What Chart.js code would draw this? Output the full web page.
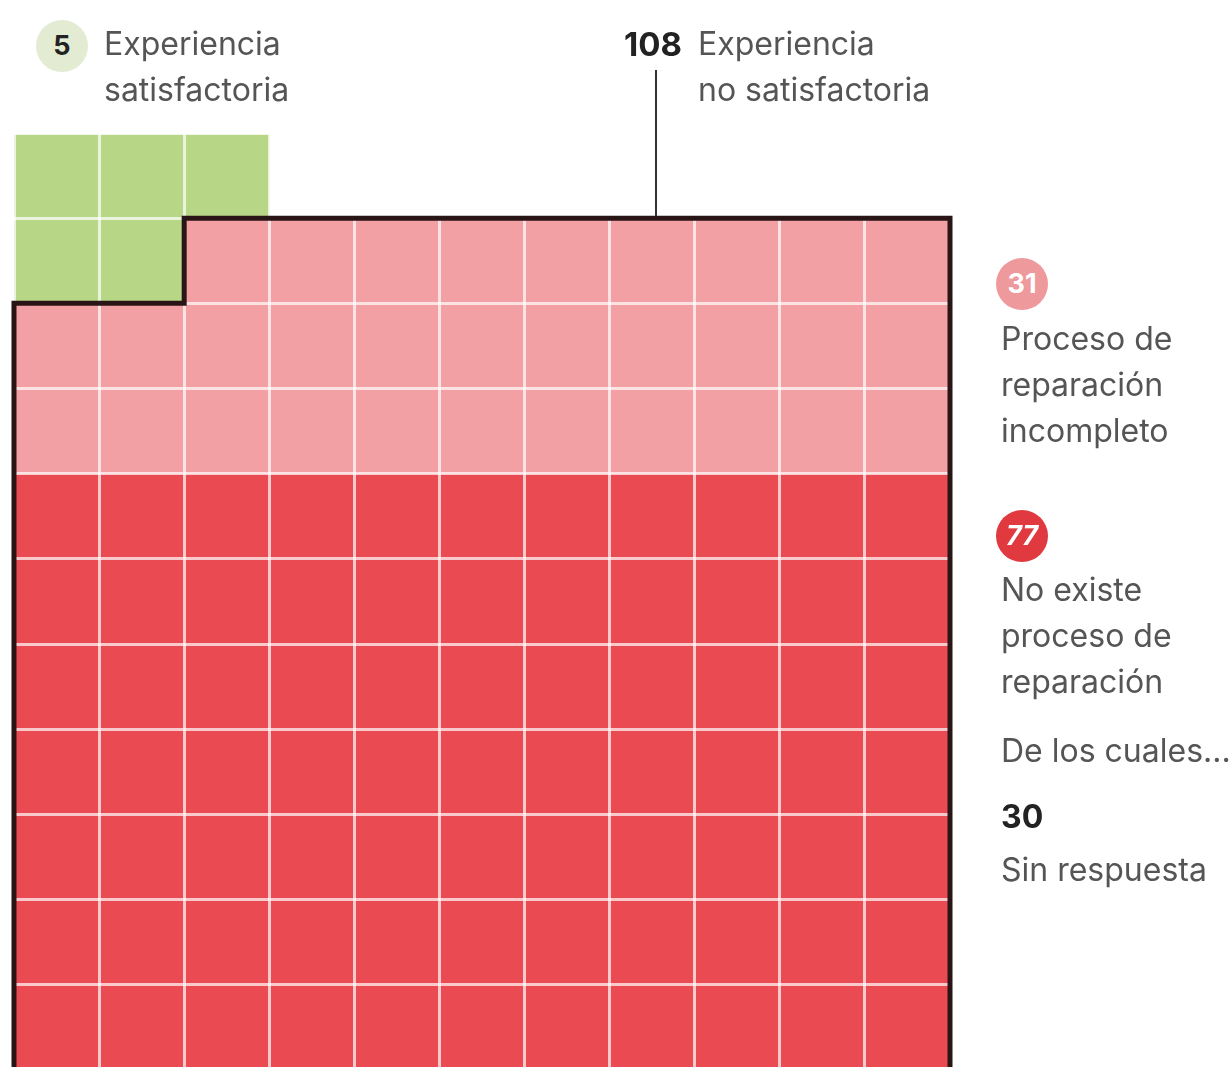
<!DOCTYPE html>
<html>
<head>
<meta charset="utf-8">
<script src="https://cdn.jsdelivr.net/npm/chart.js@4"></script>
<style>
  html, body { margin: 0; padding: 0; background: #fff; overflow: hidden; }
  body { width: 1229px; height: 1067px; position: relative; font-family: Inter, "Noto Sans", sans-serif; }
  #wrap { position: absolute; left: 0; top: 0; width: 1229px; height: 1070px; }
  .lbl { position: absolute; color: #555; font-size: 32px; line-height: 46px; white-space: nowrap; letter-spacing: 0; }
  .num { color: #222; font-weight: 700; }
  .badge { position: absolute; width: 52px; height: 52px; border-radius: 50%; text-align: center; line-height: 52px; font-size: 27px; font-weight: 700; }
  .lead { position: absolute; left: 655px; top: 70px; width: 2px; height: 146px; background: #333; }
</style>
</head>
<body>
<div id="wrap"><canvas id="myChart"></canvas></div>

<div class="badge" style="left:36px;top:20px;background:#e3ebd2;color:#222;">5</div>
<div class="lbl" style="left:104px;top:21px;">Experiencia<br>satisfactoria</div>

<div class="lbl num" style="left:624px;top:21px;font-size:33px;">108</div>
<div class="lbl" style="left:698px;top:21px;">Experiencia<br>no satisfactoria</div>
<div class="lead"></div>

<div class="badge" style="left:996px;top:258px;background:#ee9a9d;color:#fff;">31</div>
<div class="lbl" style="left:1001px;top:316px;">Proceso de<br>reparación<br>incompleto</div>

<div class="badge" style="left:996px;top:510px;background:#e03a40;color:#fff;font-style:italic;">77</div>
<div class="lbl" style="left:1001px;top:567px;">No existe<br>proceso de<br>reparación</div>
<div class="lbl" style="left:1001px;top:728px;">De los cuales...</div>
<div class="lbl num" style="left:1001px;top:794px;">30</div>
<div class="lbl" style="left:1001px;top:847px;">Sin respuesta</div>

<script>
// waffle data
const categories = ['Experiencia satisfactoria', 'Proceso de reparación incompleto', 'No existe proceso de reparación'];
const counts = [5, 31, 77];
const colors = ['#b7d686', '#f2a0a3', '#ea4a51'];
const cols = 11;

// lay the cells out: grid fills from the bottom, the partial row sits on top-left,
// categories are assigned in reading order
const total = counts.reduce((a, b) => a + b, 0);
const rows = Math.ceil(total / cols);
const firstRow = total - (rows - 1) * cols;
const cells = [];
let cat = 0, used = 0;
for (let r = 0; r < rows; r++) {
    const n = r === 0 ? firstRow : cols;
    for (let c = 0; c < n; c++) {
        while (used >= counts[cat]) { cat++; used = 0; }
        cells.push({ r: r, c: c, cat: cat });
        used++;
    }
}

// one floating bar per category per column
const datasets = categories.map((name, i) => {
    const data = [];
    for (let c = 0; c < cols; c++) {
        const rs = cells.filter(d => d.cat === i && d.c === c).map(d => d.r);
        data.push(rs.length ? [Math.min(...rs), Math.max(...rs) + 1] : null);
    }
    return {
        label: name,
        data: data,
        backgroundColor: colors[i],
        borderWidth: 0,
        barPercentage: 1,
        categoryPercentage: 1
    };
});

// thick outline round the "no satisfactoria" group (cats 1 and 2)
const outline = {
    id: 'outline',
    afterDraw(chart) {
        const x = chart.scales.x, y = chart.scales.y, ctx = chart.ctx;
        const cw = (x.right - x.left) / cols;
        const inGroup = (r, c) => cells.some(d => d.r === r && d.c === c && d.cat >= 1);
        const xl = c => x.getPixelForValue(c) - cw / 2;
        ctx.save();
        ctx.strokeStyle = '#2a1516';
        ctx.lineWidth = 5;
        ctx.lineCap = 'square';
        ctx.beginPath();
        cells.filter(d => d.cat >= 1).forEach(d => {
            const x0 = xl(d.c), x1 = xl(d.c + 1);
            const y0 = y.getPixelForValue(d.r), y1 = y.getPixelForValue(d.r + 1);
            if (!inGroup(d.r - 1, d.c)) { ctx.moveTo(x0, y0); ctx.lineTo(x1, y0); }
            if (!inGroup(d.r + 1, d.c)) { ctx.moveTo(x0, y1); ctx.lineTo(x1, y1); }
            if (!inGroup(d.r, d.c - 1)) { ctx.moveTo(x0, y0); ctx.lineTo(x0, y1); }
            if (!inGroup(d.r, d.c + 1)) { ctx.moveTo(x1, y0); ctx.lineTo(x1, y1); }
        });
        ctx.stroke();
        ctx.restore();
    }
};

const chart = document.getElementById('myChart');
const myChart = new Chart(chart, {
    type: 'bar',
    data: {
        labels: Array.from({ length: cols }, (_, i) => i),
        datasets: datasets
    },
    options: {
        responsive: true,
        maintainAspectRatio: false,
        animation: false,
        layout: { padding: { left: 14, top: 133, right: 279, bottom: 0 } },
        plugins: { legend: { display: false }, tooltip: { enabled: false } },
        scales: {
            x: {
                stacked: true,
                ticks: { display: false },
                border: { display: false },
                grid: { color: 'rgba(255,255,255,0.7)', lineWidth: 3, drawTicks: false, offset: true, z: 1 }
            },
            y: {
                reverse: true,
                min: 0,
                max: rows,
                ticks: { display: false, stepSize: 1 },
                border: { display: false },
                grid: { color: 'rgba(255,255,255,0.7)', lineWidth: 3, drawTicks: false, z: 1 }
            }
        }
    },
    plugins: [outline]
});
</script>
</body>
</html>
